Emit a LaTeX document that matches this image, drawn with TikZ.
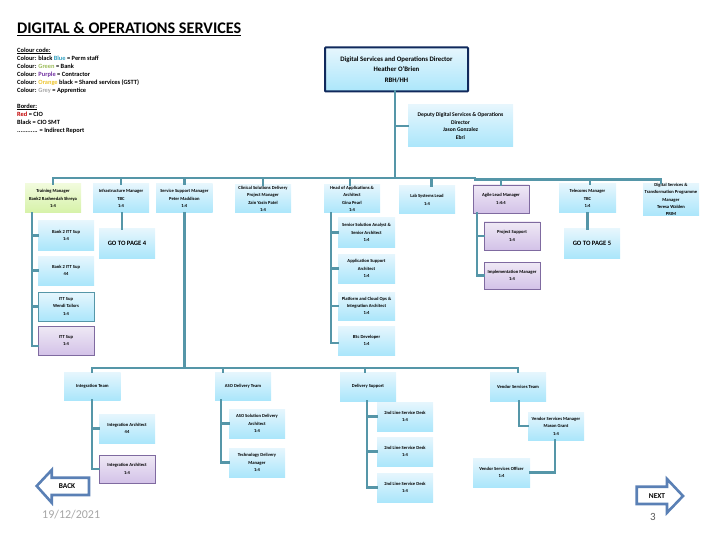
\documentclass[tikz,border=0pt]{standalone}
\usepackage{fontspec}
\setmainfont{Carlito}
\definecolor{conn}{HTML}{5596A8}
\definecolor{bluetop}{HTML}{E6F6FD}
\definecolor{bluebot}{HTML}{ABE6FB}
\definecolor{greentop}{HTML}{F1FBDC}
\definecolor{greenbot}{HTML}{D6F2A8}
\definecolor{purptop}{HTML}{EFE9F5}
\definecolor{purpbot}{HTML}{D3C2E8}
\definecolor{purpline}{HTML}{7F6AA0}
\definecolor{navy}{HTML}{10295C}
\definecolor{arrowblue}{HTML}{5A80B5}
\definecolor{leg1}{HTML}{31A0C0}
\definecolor{leg2}{HTML}{9BBB59}
\definecolor{leg3}{HTML}{7030A0}
\definecolor{leg4}{HTML}{EDC531}
\definecolor{leg5}{HTML}{A6A6A6}
\definecolor{leg6}{HTML}{C00000}
\tikzset{
  base/.style={inner sep=0pt,outer sep=0pt,align=center,text=black,font=\fontsize{4.6}{7.4}\selectfont\bfseries},
  bluebox/.style={base,top color=bluetop,bottom color=bluebot},
  deputybox/.style={bluebox,font=\fontsize{5.6}{7.4}\selectfont\bfseries},
  tealbox/.style={bluebox,draw=conn,line width=0.8pt},
  greenbox/.style={base,top color=greentop,bottom color=greenbot},
  purplebox/.style={base,top color=purptop,bottom color=purpbot,draw=purpline,line width=0.8pt},
  director/.style={bluebox,draw=navy,line width=2pt,rounded corners=0.8pt,font=\fontsize{6.8}{10.5}\selectfont\bfseries},
  gotobox/.style={bluebox,font=\fontsize{6.6}{8}\selectfont\bfseries},
  conline/.style={draw=conn,line width=2.4pt,line cap=rect,line join=miter},
  navarrow/.style={draw=arrowblue,line width=2.6pt,fill=white,line join=miter},
  navtext/.style={inner sep=0pt,font=\fontsize{7.4}{8}\selectfont\bfseries},
  footer/.style={inner sep=0pt,text=leg5}
}
\newcommand{\bx}[7]{\node[#6,minimum width={(#4-#2)*1pt},minimum height={(#5-#3)*1pt}] (#1) at ({(#2+#4)/2},{(#3+#5)/2}) {#7};}
\begin{document}
\begin{tikzpicture}[x=1pt,y=-1pt]
\useasboundingbox (0,0) rectangle (720,540);
\node[anchor=west,inner sep=0pt,font=\fontsize{16.2}{18}\selectfont\bfseries] (title) at (17,29) {\underline{DIGITAL \& OPERATIONS SERVICES}};
\node[anchor=north west,inner sep=0pt,align=left,font=\fontsize{6.4}{8}\selectfont\bfseries] (legend) at (17,47.5) {%
\underline{Colour code:}\\
Colour: black \textcolor{leg1}{Blue} = Perm staff\\
Colour: \textcolor{leg2}{Green} = Bank\\
Colour: \textcolor{leg3}{Purple} = Contractor\\
Colour: \textcolor{leg4}{Orange} black = Shared services (GSTT)\\
Colour: \textcolor{leg5}{Grey} = Apprentice\\[8pt]
\underline{Border:}\\
\textcolor{leg6}{Red} = CIO\\
Black = CIO SMT\\
............ = Indirect Report};

% top
\bx{dir}{325}{47.5}{468}{91.5}{director}{Digital Services and Operations Director\\Heather O'Brien\\RBH/HH}
\bx{dep}{408}{105}{513}{147}{deputybox}{Deputy Digital Services \& Operations\\Director\\Jason Gonzalez\\Ebri}

% row 1
\bx{train}{25}{184}{81}{213}{greenbox}{Training Manager\\Bank2 Rasheedah Shreya\\1:4}
\bx{infra}{93}{184}{149}{213}{bluebox}{Infrastructure Manager\\TBC\\1:4}
\bx{serv}{156}{184}{212.7}{213}{bluebox}{Service Support Manager\\Peter Maddison\\1:4}
\bx{clin}{235}{185}{291}{213}{bluebox}{Clinical Solutions Delivery\\Project Manager\\Zain Yasin Patel\\1:4}
\bx{apps}{324}{185}{380}{213}{bluebox}{Head of Applications \&\\Architect\\Gina Pearl\\1:4}
\bx{lab}{399}{186}{455}{214}{bluebox}{Lab Systems Lead\\1:4}
\bx{agile}{473}{185}{529}{213}{purplebox}{Agile Lead Manager\\1:4:4}
\bx{tele}{559}{184}{616}{213}{bluebox}{Telecoms Manager\\TBC\\1:4}
\bx{prog}{643}{185}{699}{214}{bluebox}{Digital Services \&\\Transformation Programme\\Manager\\Teresa Walden\\PRIM}

% training children
\bx{tc1}{38}{221}{94}{250}{bluebox}{Bank 2 ITT Sup\\1:4}
\bx{tc2}{38}{256}{94}{285}{bluebox}{Bank 2 ITT Sup\\44}
\bx{tc3}{38}{292}{94}{321}{tealbox}{ITT Sup\\Wendi Tailors\\1:4}
\bx{tc4}{38}{326}{94}{355}{purplebox}{ITT Sup\\1:4}
\bx{goa}{99}{229}{155}{258}{gotobox}{GO TO PAGE 4}

% applications children
\bx{ac1}{338}{218}{395}{247}{bluebox}{Senior Solution Analyst \&\\Senior Architect\\1:4}
\bx{ac2}{338}{254}{395}{283}{bluebox}{Application Support\\Architect\\1:4}
\bx{ac3}{338}{292}{395}{320}{bluebox}{Platform and Cloud Ops \&\\Integration Architect\\1:4}
\bx{ac4}{338}{326}{395}{355}{bluebox}{BSc Developer\\1:4}

% agile children
\bx{pc1}{484}{222}{540}{250}{purplebox}{Project Support\\1:4}
\bx{pc2}{484}{262}{540}{289}{purplebox}{Implementation Manager\\1:4}
\bx{gob}{564}{229}{620}{258}{gotobox}{GO TO PAGE 5}

% bottom row
\bx{integ}{64}{372}{120.7}{400}{bluebox}{Integration Team}
\bx{deliv}{215}{372}{271}{400}{bluebox}{ASO Delivery Team}
\bx{supp}{340}{372}{396}{401}{bluebox}{Delivery Support}
\bx{vend}{490}{372}{546}{401}{bluebox}{Vendor Services Team}

\bx{ic1}{99}{414}{155}{443}{bluebox}{Integration Architect\\44}
\bx{ic2}{99}{455}{155}{483}{purplebox}{Integration Architect\\1:4}
\bx{dc1}{229}{409}{285}{438}{bluebox}{ASO Solution Delivery\\Architect\\1:4}
\bx{dc2}{229}{448}{285}{477}{bluebox}{Technology Delivery\\Manager\\1:4}
\bx{sc1}{377}{402}{433}{431}{bluebox}{2nd Line Service Desk\\1:4}
\bx{sc2}{377}{437}{433}{466}{bluebox}{2nd Line Service Desk\\1:4}
\bx{sc3}{377}{473}{433}{502}{bluebox}{2nd Line Service Desk\\1:4}
\bx{vm}{528}{412}{584}{440}{bluebox}{Vendor Services Manager\\Mason Grant\\1:4}
\bx{vo}{473}{458}{530}{487}{bluebox}{Vendor Services Officer\\1:4}

% top bus
\coordinate (trunk) at (395,178);
\coordinate (busL) at (53,178);
\coordinate (busM) at (475,178);
\coordinate (busR) at (475,179.7);
\coordinate (busE) at (661,179.7);
\coordinate (d5) at (350,178);
\coordinate (d6) at (431.5,178);
\coordinate (d7) at (501,179.7);
\coordinate (d8) at (590,179.7);
\coordinate (d9) at (661,179.7);
\begin{scope}[on background layer/.style={}]
\draw[conline] (dir.south -| trunk) -- (trunk);
\draw[conline] (dep.west) -- (dep.west -| trunk);
\draw[conline] (busL) -- (busM);
\draw[conline] (busR) -- (busE);
\foreach \n in {train,infra,clin}{\draw[conline] (\n.north |- busL) -- (\n.north);}
\coordinate (d3) at (184.3,178);
\draw[conline] (d3) -- (d3 |- serv.north);
\draw[conline] (d5) -- (d5 |- apps.north);
\draw[conline] (d6) -- (d6 |- lab.north);
\draw[conline] (d7) -- (d7 |- agile.north);
\draw[conline] (d8) -- (d8 |- tele.north);
\draw[conline] (d9) -- (d9 |- prog.north);

% training spine
\coordinate (ts) at (31.7,213);
\draw[conline] (ts) |- ([yshift=-5.5pt]tc4.west);
\draw[conline] (ts |- tc1.west) -- (tc1.west);
\draw[conline] (ts |- tc2.west) -- (tc2.west);
\draw[conline] (ts |- tc3.west) -- (tc3.west);
% infra to go
\coordinate (gs) at (122,213);
\draw[conline] (gs) -- (gs |- goa.north);
% tele to go
\coordinate (gt) at (587.5,213);
\draw[conline] (gt) -- (gt |- gob.north);
% applications spine
\coordinate (as) at (331,213);
\draw[conline] (as) |- ([yshift=-2.5pt]ac4.west);
\draw[conline] (as |- ac1.west) -- (ac1.west);
\draw[conline] (as |- ac2.west) -- (ac2.west);
\draw[conline] (as |- ac3.west) -- (ac3.west);
% agile spine
\coordinate (ps) at (477,213);
\draw[conline] (ps) |- (pc2.west);
\draw[conline] (ps |- pc1.west) -- (pc1.west);

% lower bus
\coordinate (lb) at (184.3,367.7);
\coordinate (lbL) at (92,367.7);
\coordinate (lbR) at (518,367.7);
\draw[conline] (serv.south -| lb) -- (lb);
\draw[conline] (lbL) -- (lbR);
\draw[conline] (lbL) -- (lbL |- integ.north);
\coordinate (lb2) at (223,367.7);
\coordinate (lb3) at (365,367.7);
\draw[conline] (lb2) -- (lb2 |- deliv.north);
\draw[conline] (lb3) -- (lb3 |- supp.north);
\draw[conline] (lbR) -- (lbR |- vend.north);

% lower spines
\coordinate (is) at (92,400);
\draw[conline] (is) |- (ic2.west);
\draw[conline] (is |- ic1.west) -- (ic1.west);
\coordinate (ds) at (221,400);
\draw[conline] (ds) |- (dc2.west);
\draw[conline] (ds |- dc1.west) -- (dc1.west);
\coordinate (ss) at (367,401);
\draw[conline] (ss) |- (sc3.west);
\draw[conline] (ss |- sc1.west) -- (sc1.west);
\draw[conline] (ss |- sc2.west) -- (sc2.west);
\coordinate (vs) at (519,401);
\draw[conline] (vs) |- (vm.west);
\coordinate (vx) at (555,440);
\draw[conline] (vx) |- (vo.east);
\end{scope}

% navigation arrows
\draw[navarrow] (36.7,486) -- (51.7,470) -- (51.7,477.7) -- (89,477.7) -- (89,495) -- (51.7,495) -- (51.7,502.7) -- cycle;
\node[navtext] (back) at (67,486) {BACK};
\draw[navarrow] (683,496) -- (667,479) -- (667,486.7) -- (636.7,486.7) -- (636.7,504) -- (667,504) -- (667,512.7) -- cycle;
\node[navtext] (next) at (657,496) {NEXT};
\node[footer,anchor=west,font=\fontsize{12}{14}\selectfont] (date) at (42,515) {19/12/2021};
\node[footer,font=\fontsize{11}{12}\selectfont,text=black!65] (page) at (653,517) {3};
\end{tikzpicture}
\end{document}
